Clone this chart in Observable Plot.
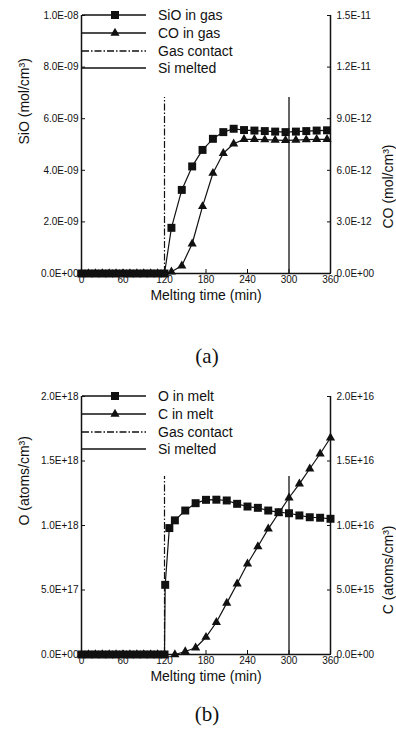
<!DOCTYPE html>
<html><head><meta charset="utf-8">
<script src="https://cdn.jsdelivr.net/npm/d3@7"></script>
<script src="https://cdn.jsdelivr.net/npm/@observablehq/plot@0.6"></script>
<style>
body{margin:0;background:#fff;width:396px;height:731px;position:relative;overflow:hidden;font-family:"Liberation Sans",Arial,sans-serif;color:#111;}
.panel{position:absolute;left:0;}
.cap{position:absolute;left:0;width:414px;text-align:center;font-family:"Liberation Serif","Times New Roman",serif;font-size:21px;line-height:21px;color:#111;}
</style></head><body>
<div id="pa" class="panel" style="top:0px"></div>
<div class="cap" style="top:346px">(a)</div>
<div id="pb" class="panel" style="top:381px"></div>
<div class="cap" style="top:704px">(b)</div>
<script>
// ---------- shared ----------
const xTicks = [0, 60, 120, 180, 240, 300, 360];
const xTitle = "Melting time (min)";

// ---------- panel (a) ----------
const timeA = [0,10,20,30,40,50,60,70,80,90,100,110,120,130,145,160,175,190,205,220,235,250,265,280,295,310,325,340,355];
const sioA = [0,0,0,0,0,0,0,0,0,0,0,0,0,1.77e-9,3.24e-9,4.15e-9,4.79e-9,5.22e-9,5.48e-9,5.61e-9,5.56e-9,5.54e-9,5.52e-9,5.50e-9,5.48e-9,5.50e-9,5.52e-9,5.54e-9,5.55e-9];
const coA = [0,0,0,0,0,0,0,0,0,0,0,0,0,1.0e-13,4.5e-13,1.73e-12,3.9e-12,5.83e-12,6.99e-12,7.54e-12,7.8e-12,7.8e-12,7.78e-12,7.76e-12,7.74e-12,7.76e-12,7.78e-12,7.8e-12,7.8e-12];
const leftTicksA = [0, 2e-9, 4e-9, 6e-9, 8e-9, 1e-8];
const leftLabelsA = ["0.0E+00","2.0E-09","4.0E-09","6.0E-09","8.0E-09","1.0E-08"];
const rightTicksA = [0, 3e-12, 6e-12, 9e-12, 1.2e-11, 1.5e-11];
const rightLabelsA = ["0.0E+00","3.0E-12","6.0E-12","9.0E-12","1.2E-11","1.5E-11"];
const markerXA = [120, 300];
const markerTopA = [6.82e-9, 6.82e-9];
const legendA = ["SiO in gas", "CO in gas", "Gas contact", "Si melted"];

// ---------- panel (b) ----------
const timeOB = [0,10,20,30,40,50,60,70,80,90,100,110,120,121,127,135,150,165,180,195,210,225,240,255,270,285,300,315,330,345,360];
const oB = [0,0,0,0,0,0,0,0,0,0,0,0,0,5.4e17,9.8e17,1.04e18,1.116e18,1.173e18,1.199e18,1.2e18,1.194e18,1.168e18,1.147e18,1.137e18,1.116e18,1.103e18,1.095e18,1.078e18,1.064e18,1.06e18,1.052e18];
const timeCB = [0,10,20,30,40,50,60,70,80,90,100,110,120,135,150,165,180,195,210,225,240,255,270,285,300,315,330,345,360];
const cB = [0,0,0,0,0,0,0,0,0,0,0,0,0,0,2.3e14,5.2e14,1.34e15,2.5e15,3.98e15,5.48e15,7.03e15,8.37e15,9.74e15,1.095e16,1.215e16,1.323e16,1.44e16,1.556e16,1.68e16];
const leftTicksB = [0, 5e17, 1e18, 1.5e18, 2e18];
const leftLabelsB = ["0.0E+00","5.0E+17","1.0E+18","1.5E+18","2.0E+18"];
const rightTicksB = [0, 5e15, 1e16, 1.5e16, 2e16];
const rightLabelsB = ["0.0E+00","5.0E+15","1.0E+16","1.5E+16","2.0E+16"];
const markerXB = [120, 300];
const markerTopB = [1.38e18, 1.38e18];
const legendB = ["O in melt", "C in melt", "Gas contact", "Si melted"];

const DASHDOT = "7,2,1.5,2";

function drawPanel(id, cfg) {
  const leftMax = cfg.leftTicks[cfg.leftTicks.length - 1];
  const rightMax = cfg.rightTicks[cfg.rightTicks.length - 1];
  const k = leftMax / rightMax;
  const fmtL = new Map(cfg.leftTicks.map((t, i) => [t, cfg.leftLabels[i]]));
  const rightPos = cfg.rightTicks.map(t => t * k);
  const fmtR = new Map(rightPos.map((t, i) => [t, cfg.rightLabels[i]]));
  const s1 = cfg.t1.map((t, i) => ({t, v: cfg.v1[i]}));
  const s2 = cfg.t2.map((t, i) => ({t, v: cfg.v2[i] * k}));
  const chart = Plot.plot({
    width: 396, height: 320,
    marginTop: 15, marginBottom: 47, marginLeft: 81, marginRight: 66,
    x: {domain: [0, 360]},
    y: {domain: [0, leftMax]},
    style: {fontFamily: "'Liberation Sans', Arial, sans-serif", fontSize: "10px", color: "#111", background: "transparent", overflow: "visible"},
    marks: [
      Plot.ruleX([cfg.markerX[0]], {y1: 0, y2: cfg.markerTop[0], stroke: "#111", strokeWidth: 1.2, strokeDasharray: DASHDOT}),
      Plot.ruleX([cfg.markerX[1]], {y1: 0, y2: cfg.markerTop[1], stroke: "#111", strokeWidth: 1.3}),
      Plot.line(s1, {x: "t", y: "v", stroke: "#111", strokeWidth: 1.2}),
      Plot.line(s2, {x: "t", y: "v", stroke: "#111", strokeWidth: 1.2}),
      Plot.dot(s1, {x: "t", y: "v", symbol: "square", r: 4.5, fill: "#111"}),
      Plot.dot(s2, {x: "t", y: "v", symbol: "triangle", r: 3.4, fill: "#111"}),
      Plot.ruleX([0, 360], {y1: 0, y2: leftMax, stroke: "#111", strokeWidth: 1.5}),
      Plot.ruleY([0], {stroke: "#111", strokeWidth: 1.5}),
      Plot.axisY({anchor: "left", ticks: cfg.leftTicks, tickFormat: d => fmtL.get(d), tickSize: -4, tickPadding: 7, label: null}),
      Plot.axisY({anchor: "right", ticks: rightPos, tickFormat: d => fmtR.get(d), tickSize: -4, tickPadding: 10, label: null}),
      Plot.axisX({ticks: xTicks, tickSize: -4, tickPadding: 6, label: null}),
      Plot.text([cfg.leftTitle], {frameAnchor: "left", dx: -57, rotate: -90, fontSize: 14, fill: "#111"}),
      Plot.text([cfg.rightTitle], {frameAnchor: "right", dx: 58, rotate: -90, fontSize: 14, fill: "#111"}),
      Plot.text([xTitle], {frameAnchor: "bottom", dy: 26, fontSize: 14, fill: "#111"})
    ]
  });
  // legend
  const svg = d3.select(chart);
  const g = svg.append("g").attr("font-family", "'Liberation Sans', Arial, sans-serif").attr("font-size", 14).attr("fill", "#111").attr("text-anchor", "start");
  const ys = [15, 33, 51, 68];
  cfg.legend.forEach((lab, i) => {
    const y = ys[i];
    g.append("line").attr("x1", 82).attr("x2", 146).attr("y1", y).attr("y2", y)
      .attr("stroke", "#111").attr("stroke-width", 1.3)
      .attr("stroke-dasharray", i === 2 ? DASHDOT : null);
    if (i === 0) g.append("path").attr("d", d3.symbol(d3.symbolSquare, 64)()).attr("transform", `translate(115,${y})`);
    if (i === 1) g.append("path").attr("d", d3.symbol(d3.symbolTriangle, 36)()).attr("transform", `translate(115,${y})`);
    g.append("text").attr("x", 158).attr("y", y).attr("dy", "0.35em").attr("text-anchor", "start").text(lab);
  });
  document.getElementById(id).appendChild(chart);
}

drawPanel("pa", {
  t1: timeA, v1: sioA, t2: timeA, v2: coA,
  leftTicks: leftTicksA, leftLabels: leftLabelsA,
  rightTicks: rightTicksA, rightLabels: rightLabelsA,
  markerX: markerXA, markerTop: markerTopA,
  leftTitle: "SiO (mol/cm³)", rightTitle: "CO (mol/cm³)", legend: legendA
});
drawPanel("pb", {
  t1: timeOB, v1: oB, t2: timeCB, v2: cB,
  leftTicks: leftTicksB, leftLabels: leftLabelsB,
  rightTicks: rightTicksB, rightLabels: rightLabelsB,
  markerX: markerXB, markerTop: markerTopB,
  leftTitle: "O (atoms/cm³)", rightTitle: "C (atoms/cm³)", legend: legendB
});
</script>
</body></html>
